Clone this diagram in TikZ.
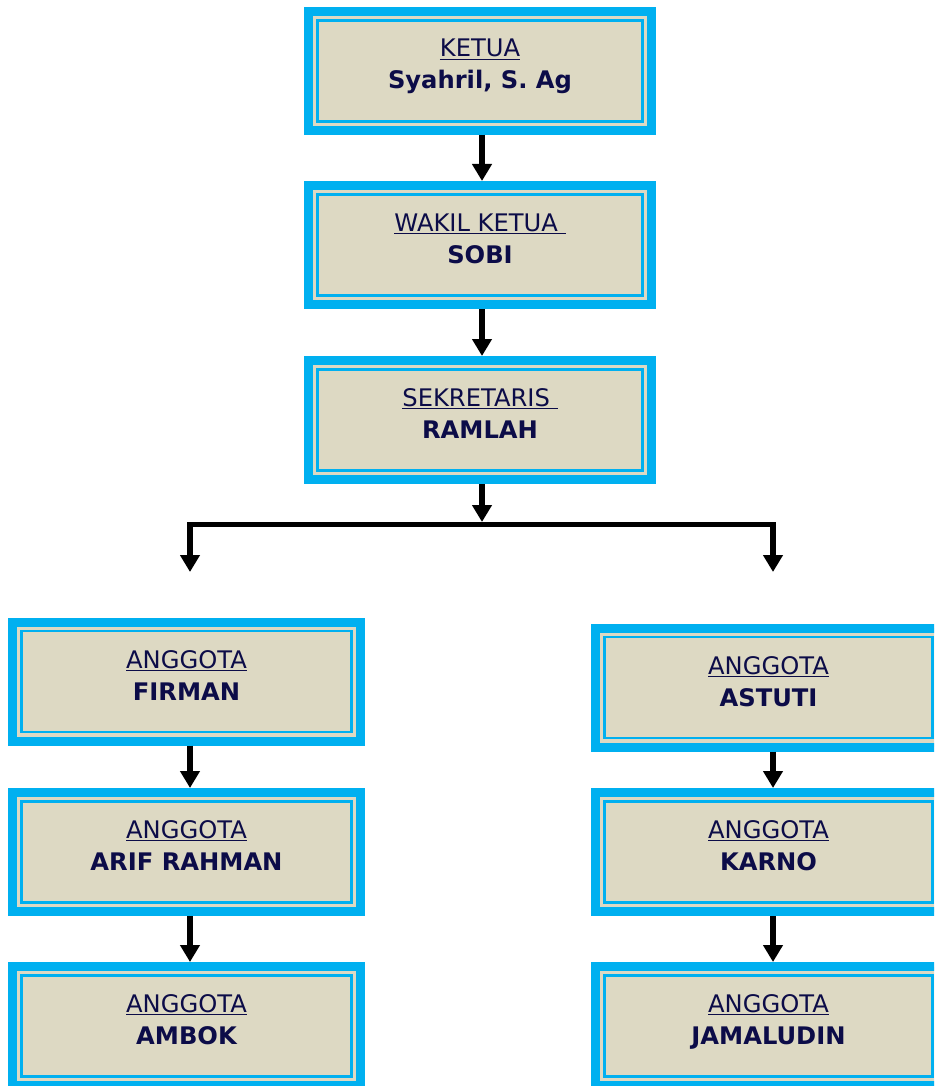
\documentclass[tikz,border=0pt]{standalone}
\usepackage{fontspec}
\setmainfont{DejaVu Sans}
\usetikzlibrary{arrows.meta}
\definecolor{boxblue}{HTML}{00B0F0}
\definecolor{boxbeige}{HTML}{DDD9C3}
\definecolor{inktext}{HTML}{0C0C48}

\begin{document}
\begin{tikzpicture}[x=1pt,y=-1pt,
  unit/.style={draw=boxblue, line width=9pt, fill=boxbeige, inner sep=0pt,
    minimum width=343pt, minimum height=119pt,
    path picture={\draw[boxblue,line width=2.5pt]
      ([shift={(8.8pt,-8.8pt)}]path picture bounding box.north west) rectangle
      ([shift={(-8.8pt,8.8pt)}]path picture bounding box.south east);}},
  leftunit/.style={unit, minimum width=348pt},
  rightunit/.style={unit, minimum width=346pt},
  role/.style={anchor=base, text=inktext, font=\fontsize{24.2}{28}\selectfont},
  who/.style={anchor=base, text=inktext, font=\fontsize{24.2}{28}\selectfont\bfseries},
  link/.style={-{Triangle[length=17pt,width=19pt]}, line width=6pt},
  fork/.style={{Triangle[length=17pt,width=19pt]}-{Triangle[length=17pt,width=19pt]},
    line width=5.5pt, line join=miter},
]
\useasboundingbox (0,0) rectangle (934,1086);
\clip (0,0) rectangle (934,1086);

% pengurus inti
\node[unit] (ketua) at (480,71) {};
\node[role] (ketuaR) at (480,57) {\underline{KETUA}};
\node[who] (ketuaN) at (480,89) {Syahril, S. Ag};

\node[unit] (wakil) at (480,245) {};
\node[role] (wakilR) at (480,231) {\underline{WAKIL KETUA\ }};
\node[who] (wakilN) at (480,263) {SOBI};

\node[unit] (sekretaris) at (480,420) {};
\node[role] (sekretarisR) at (480,406) {\underline{SEKRETARIS\ }};
\node[who] (sekretarisN) at (480,438) {RAMLAH};

\draw[link] ([xshift=2pt]ketua.south) -- ([xshift=2pt]wakil.north);
\draw[link] ([xshift=2pt]wakil.south) -- ([xshift=2pt]sekretaris.north);

% cabang
\coordinate (fork) at (482,522);
\coordinate (forkL) at (190,524.5);
\coordinate (forkR) at (773,524.5);
\coordinate (endL) at (190,572);
\coordinate (endR) at (773,572);
\draw[link] ([xshift=2pt]sekretaris.south) -- (fork);
\draw[fork] (endL) -- (forkL) -- (forkR) -- (endR);

% anggota kiri
\node[leftunit] (firman) at (186.5,681.5) {};
\node[role] (firmanR) at (186.5,668) {\underline{ANGGOTA}};
\node[who] (firmanN) at (186.5,700) {FIRMAN};

\node[leftunit] (arif) at (186.5,852) {};
\node[role] (arifR) at (186.5,838.5) {\underline{ANGGOTA}};
\node[who] (arifN) at (186.5,870.5) {ARIF RAHMAN};

\node[leftunit] (ambok) at (186.5,1026) {};
\node[role] (ambokR) at (186.5,1012.5) {\underline{ANGGOTA}};
\node[who] (ambokN) at (186.5,1044.5) {AMBOK};

\draw[link] ([xshift=3.5pt]firman.south) -- ([xshift=3.5pt]arif.north);
\draw[link] ([xshift=3.5pt]arif.south) -- ([xshift=3.5pt]ambok.north);

% anggota kanan
\node[rightunit] (astuti) at (768.5,687.5) {};
\node[role] (astutiR) at (768.5,674) {\underline{ANGGOTA}};
\node[who] (astutiN) at (768.5,706) {ASTUTI};

\node[rightunit] (karno) at (768.5,852) {};
\node[role] (karnoR) at (768.5,838.5) {\underline{ANGGOTA}};
\node[who] (karnoN) at (768.5,870.5) {KARNO};

\node[rightunit] (jamaludin) at (768.5,1026) {};
\node[role] (jamaludinR) at (768.5,1012.5) {\underline{ANGGOTA}};
\node[who] (jamaludinN) at (768.5,1044.5) {JAMALUDIN};

\draw[link] ([xshift=4.5pt]astuti.south) -- ([xshift=4.5pt]karno.north);
\draw[link] ([xshift=4.5pt]karno.south) -- ([xshift=4.5pt]jamaludin.north);
\end{tikzpicture}
\end{document}
